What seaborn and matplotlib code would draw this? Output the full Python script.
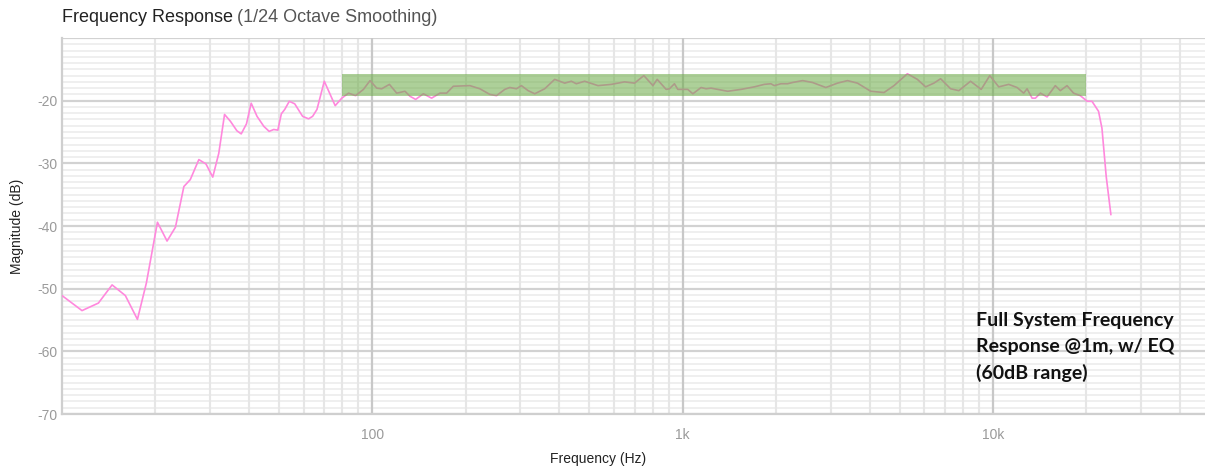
import numpy as np
import pandas as pd
import matplotlib
matplotlib.use("Agg")
import matplotlib.pyplot as plt
from matplotlib.ticker import FixedLocator, NullLocator
import seaborn as sns

freq_hz = [
    10.0, 11.6, 13.1, 14.5, 16.0, 17.5, 18.7, 20.3, 21.8, 23.2, 24.7, 25.9,
    27.6, 29.1, 30.6, 32.0, 33.4, 34.9, 36.6, 37.8, 39.3, 40.7, 42.5, 44.7,
    46.5, 48.1, 49.6, 50.9, 52.2, 54.0, 56.2, 59.6, 62.3, 64.2, 66.3, 70.0,
    75.9, 79.7, 83.8, 88.3, 93.6, 98.3, 103.3, 107.2, 113.5, 119.8, 127.4,
    132.2, 137.9, 146.0, 155.2, 165.1, 173.5, 182.3, 206.2, 222.0, 239.0,
    251.2, 267.1, 277.2, 291.2, 302.2, 317.6, 333.6, 359.2, 386.8, 416.6,
    437.7, 454.2, 483.0, 533.3, 588.6, 649.4, 699.4, 749.7, 801.6, 827.4,
    884.4, 906.3, 940.5, 964.3, 1038, 1078, 1146, 1189, 1234, 1396, 1541,
    1700, 1831, 1924, 1972, 2072, 2177, 2259, 2434, 2620, 2891, 3153, 3396,
    3656, 4035, 4453, 4795, 5295, 5702, 6062, 6447, 6776, 7296, 7758, 8459,
    9157, 9759, 10430, 11230, 11950, 12550, 12870, 13360, 13690, 14210,
    14930, 15870, 16470, 17310, 18170, 19100, 20120, 20830, 21870, 22430,
    23150, 23970,
]
magnitude_db = [
    -51.1, -53.5, -52.3, -49.4, -51.1, -54.9, -49.1, -39.4, -42.4, -40.2, -33.7, -32.6,
    -29.4, -30.1, -32.2, -28.4, -22.2, -23.3, -24.8, -25.3, -23.7, -20.4, -22.5, -24.1,
    -24.9, -24.6, -24.7, -22.1, -21.4, -20.1, -20.5, -22.5, -22.9, -22.5, -21.4, -16.9,
    -20.8, -19.6, -18.8, -19.2, -18.2, -16.8, -18.0, -18.1, -17.4, -18.8, -18.5,
    -19.3, -19.8, -18.9, -19.6, -18.8, -18.8, -17.7, -17.6, -18.1, -19.0,
    -19.2, -18.2, -17.9, -18.1, -17.6, -18.4, -18.9, -18.1, -16.6, -17.2,
    -16.9, -17.3, -16.9, -17.6, -17.4, -17.0, -17.2, -16.0, -17.6, -16.6,
    -18.2, -18.1, -17.3, -18.2, -18.2, -18.9, -17.9, -18.1, -18.0, -18.5, -18.2,
    -17.8, -17.4, -17.3, -17.6, -17.3, -17.3, -17.1, -16.8, -17.1, -17.9, -17.2, -16.8,
    -17.2, -18.5, -18.7, -17.6, -15.7, -16.6, -17.8, -17.2, -16.5, -18.1, -18.4, -16.9,
    -18.2, -16.0, -17.8, -17.4, -17.9, -18.8, -18.1, -19.6, -19.6, -18.8,
    -19.4, -17.6, -18.4, -17.6, -18.8, -19.2, -20.1, -20.1, -21.7, -24.4,
    -32.1, -38.2,
]

# target window (green box)
band_hz = [80, 20000]
band_db = [-19.3, -15.7]

y_ticks = [-70, -60, -50, -40, -30, -20, -10]
y_labels = ["-70", "-60", "-50", "-40", "-30", "-20", ""]
x_ticks = [100, 1000, 10000]
x_labels = ["100", "1k", "10k"]

df = pd.DataFrame({"freq": freq_hz, "mag": magnitude_db})

sns.set_theme(style="white")
plt.rcParams["font.family"] = ["Liberation Sans", "DejaVu Sans"]

fig = plt.figure(figsize=(12.05, 4.69), dpi=100)
ax = fig.add_axes([62 / 1205, 55 / 469, 1148 / 1205, 376 / 469])

sns.lineplot(data=df, x="freq", y="mag", ax=ax, color="#ff88dd",
             linewidth=1.2, sort=False, zorder=3)
ax.fill_between(band_hz, band_db[0], band_db[1], color="#6aab45",
                alpha=0.55, linewidth=0, zorder=4)

ax.set_xscale("log")
ax.set_xlim(10, 50000)
ax.set_ylim(-70, -10)

ax.xaxis.set_major_locator(FixedLocator(x_ticks))
ax.set_xticklabels(x_labels)
ax.xaxis.set_minor_locator(NullLocator())
ax.set_yticks(y_ticks)
ax.set_yticklabels(y_labels)

# grid drawn by hand so the heavy lines sit over the light ones
minor_x = [m * 10 ** e for e in range(1, 5) for m in range(2, 10) if m * 10 ** e < 50000]
for y in range(-70, -9):
    if y % 10:
        ax.axhline(y, color="#ececec", linewidth=1.2, zorder=0.1)
for x in minor_x:
    ax.axvline(x, color="#e6e6e6", linewidth=1.5, zorder=0.2)
for y in y_ticks:
    ax.axhline(y, color="#d2d2d2", linewidth=1.6, zorder=0.3)
for x in x_ticks:
    ax.axvline(x, color="#c8c8c8", linewidth=1.6, zorder=0.4)

ax.tick_params(which="both", length=0)
ax.tick_params(axis="x", labelsize=10, labelcolor="#9a9a9a", pad=10)
ax.tick_params(axis="y", labelsize=10, labelcolor="#9a9a9a", pad=3)

for side in ("top", "right"):
    ax.spines[side].set_visible(False)
for side in ("left", "bottom"):
    ax.spines[side].set_color("#cfcfcf")
    ax.spines[side].set_linewidth(1.6)

ax.set_xlabel("Frequency (Hz)", fontsize=10, color="#222222")
ax.set_ylabel("Magnitude (dB)", fontsize=10, color="#222222", labelpad=10)
ax.xaxis.set_label_coords((598 - 62) / 1148, -(452 - 414) / 376)

# title in two weights
t1 = fig.text(62 / 1205, 1 - 18 / 469, "Frequency Response", fontsize=13,
              color="#222222", va="center", ha="left")
fig.canvas.draw()
bb = t1.get_window_extent()
fig.text((bb.x1 + 4) / 1205, 1 - 18 / 469, "(1/24 Octave Smoothing)",
         fontsize=13, color="#555555", va="center", ha="left")

fig.text(976 / 1205, 1 - 347 / 469,
         "Full System Frequency\nResponse @1m, w/ EQ\n(60dB range)",
         fontsize=14, fontweight="bold", family=["Lato", "DejaVu Sans"],
         color="#111111", va="center", ha="left", linespacing=1.62)

fig.savefig("out.png", dpi=100)
